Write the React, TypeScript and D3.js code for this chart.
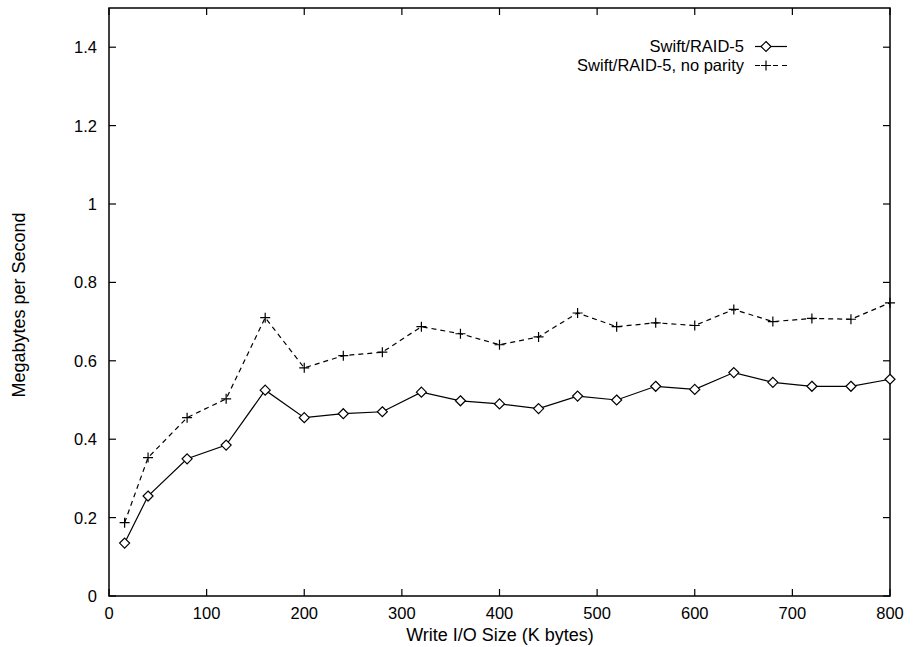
import React from "react";
import * as d3 from "d3";

const xValues = [16, 40, 80, 120, 160, 200, 240, 280, 320, 360, 400, 440, 480, 520, 560, 600, 640, 680, 720, 760, 800];
const raid5 = [0.135, 0.255, 0.35, 0.385, 0.525, 0.455, 0.465, 0.47, 0.52, 0.498, 0.49, 0.478, 0.51, 0.5, 0.535, 0.527, 0.57, 0.545, 0.535, 0.535, 0.553];
const raid5NoParity = [0.187, 0.353, 0.455, 0.503, 0.71, 0.582, 0.613, 0.622, 0.687, 0.669, 0.641, 0.661, 0.722, 0.687, 0.697, 0.69, 0.731, 0.7, 0.708, 0.706, 0.748];
const xTicks = [0, 100, 200, 300, 400, 500, 600, 700, 800];
const yTicks = [0, 0.2, 0.4, 0.6, 0.8, 1, 1.2, 1.4];
const seriesNames = ["Swift/RAID-5", "Swift/RAID-5, no parity"];

const W = 923, H = 647;
const L = 109, R = 890, T = 8, B = 596;
const font = "'Liberation Sans', Arial, sans-serif";

export default function App() {
  const x = d3.scaleLinear().domain([0, 800]).range([L, R]);
  const y = d3.scaleLinear().domain([0, 1.5]).range([B, T]);
  const line = d3.line<number>().x((_, i) => x(xValues[i])).y((d) => y(d));
  const tl = 7;

  const diamond = (cx: number, cy: number, k: string) => (
    <path key={k} d={`M${cx},${cy - 5}L${cx + 5},${cy}L${cx},${cy + 5}L${cx - 5},${cy}Z`} fill="white" stroke="black" strokeWidth={1.2} />
  );
  const plus = (cx: number, cy: number, k: string) => (
    <path key={k} d={`M${cx - 5},${cy}H${cx + 5}M${cx},${cy - 5}V${cy + 5}`} stroke="black" strokeWidth={1.2} />
  );

  return (
    <svg width={W} height={H} style={{ position: "absolute", left: 0, top: 0, background: "white" }}>
      <rect x={0} y={0} width={W} height={H} fill="white" />
      <rect x={L} y={T} width={R - L} height={B - T} fill="none" stroke="black" strokeWidth={1.5} />
      {yTicks.map((t) => (
        <g key={"y" + t}>
          <line x1={L} x2={L + tl} y1={y(t)} y2={y(t)} stroke="black" strokeWidth={1.2} />
          <line x1={R} x2={R - tl} y1={y(t)} y2={y(t)} stroke="black" strokeWidth={1.2} />
          <text x={L - 12} y={y(t) + 6} textAnchor="end" fontFamily={font} fontSize={16.5}>{String(t)}</text>
        </g>
      ))}
      {xTicks.map((t) => (
        <g key={"x" + t}>
          <line x1={x(t)} x2={x(t)} y1={B} y2={B - tl} stroke="black" strokeWidth={1.2} />
          <line x1={x(t)} x2={x(t)} y1={T} y2={T + tl} stroke="black" strokeWidth={1.2} />
          <text x={x(t)} y={619} textAnchor="middle" fontFamily={font} fontSize={16.5}>{String(t)}</text>
        </g>
      ))}
      <text x={500} y={641} textAnchor="middle" fontFamily={font} fontSize={18}>Write I/O Size (K bytes)</text>
      <text transform={`translate(25,${(T + B) / 2 + 3}) rotate(-90)`} textAnchor="middle" fontFamily={font} fontSize={18}>Megabytes per Second</text>

      <path d={line(raid5) || ""} fill="none" stroke="black" strokeWidth={1.2} />
      <path d={line(raid5NoParity) || ""} fill="none" stroke="black" strokeWidth={1.2} strokeDasharray="5,4" />
      {raid5NoParity.map((v, i) => plus(x(xValues[i]), y(v), "p" + i))}
      {raid5.map((v, i) => diamond(x(xValues[i]), y(v), "d" + i))}

      <text x={744} y={52} textAnchor="end" fontFamily={font} fontSize={16.5}>{seriesNames[0]}</text>
      <line x1={755} x2={787} y1={46.5} y2={46.5} stroke="black" strokeWidth={1.2} />
      {diamond(766, 46.5, "ld")}
      <text x={744} y={71} textAnchor="end" fontFamily={font} fontSize={16.5}>{seriesNames[1]}</text>
      <line x1={755} x2={787} y1={65.5} y2={65.5} stroke="black" strokeWidth={1.2} strokeDasharray="5,4" />
      {plus(766, 65.5, "lp")}
    </svg>
  );
}
